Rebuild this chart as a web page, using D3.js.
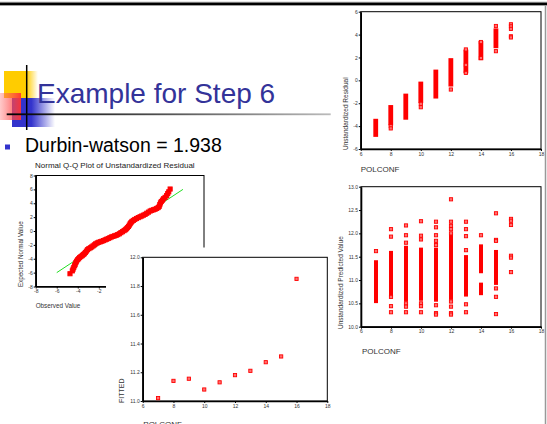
<!DOCTYPE html>
<html>
<head>
<meta charset="utf-8">
<script src="https://cdn.jsdelivr.net/npm/d3@7"></script>
<style>
  body { margin: 0; background: #fff; }
  svg { display: block; }
</style>
</head>
<body>
<svg id="slide" width="547" height="424"></svg>
<script>
// ---- data ----
const polconf = [7, 8, 9, 10, 11, 12, 13, 14, 15, 16];

// Normal Q-Q plot: [observed, expected normal]
const qqPoints = [
  [-4.74,-6.16],[-4.52,-5.75],[-4.45,-5.5],[-4.38,-5.25],[-4.3,-5.0],[-4.25,-4.8],[-4.18,-4.55],
  [-4.12,-4.35],[-4.02,-4.15],[-3.92,-4.0],[-3.82,-3.82],[-3.7,-3.68],[-3.58,-3.55],[-3.48,-3.4],
  [-3.38,-3.28],[-3.28,-3.1],[-3.18,-2.9],[-3.08,-2.7],[-2.95,-2.55],[-2.8,-2.42],[-2.68,-2.3],
  [-2.55,-2.15],[-2.42,-2.0],[-2.3,-1.85],[-2.15,-1.72],[-2.0,-1.62],[-1.85,-1.55],[-1.7,-1.47],
  [-1.55,-1.38],[-1.4,-1.28],[-1.25,-1.18],[-1.1,-1.08],[-0.95,-0.97],[-0.8,-0.86],[-0.65,-0.78],
  [-0.5,-0.7],[-0.35,-0.62],[-0.2,-0.52],[-0.05,-0.4],[0.1,-0.24],[0.25,-0.1],[0.4,0.05],
  [0.52,0.18],[0.62,0.32],[0.72,0.48],[0.82,0.65],[0.9,0.85],[0.98,1.05],[1.06,1.22],[1.15,1.38],
  [1.28,1.52],[1.42,1.66],[1.58,1.8],[1.75,1.93],[1.92,2.05],[2.08,2.16],[2.24,2.28],[2.4,2.4],
  [2.56,2.56],[2.72,2.72],[2.88,2.88],[3.04,2.98],[3.2,3.06],[3.35,3.14],[3.5,3.25],[3.64,3.38],
  [3.74,3.55],[3.8,3.8],[3.86,4.05],[3.94,4.25],[4.05,4.45],[4.15,4.65],[4.3,4.85],[4.45,5.1],
  [4.55,5.4],[4.65,5.65],[4.78,6.05]
];
const qqLine = [[-6, -6], [6, 6]];

// mean fitted value per POLCONF
const fitted = [11.02, 11.14, 11.155, 11.08, 11.13, 11.18, 11.21, 11.27, 11.31, 11.85];

// unstandardized residual: dense range per POLCONF [low, high] plus loose points
const residBands = [[-4.8,-3.5],[-3.8,-2.3],[-3.3,-1.3],[-1.85,-0.25],[-1.45,0.8],[-0.4,1.8],[0.75,2.55],[1.9,3.3],[2.95,4.4],null];
const residPoints = [
  [8,-4.0],[8,-4.2],[10,-2.05],[10,-2.35],[12,-0.8],[13,2.7],[13,1.35],[13,0.65],
  [14,3.35],[14,1.95],[15,4.75],[15,2.55],[16,4.9],[16,4.72],[16,4.5],[16,3.85],[16,3.75]
];

// unstandardized predicted value: dense ranges and loose points
const predBands = [
  [7,10.54,11.39],[8,10.68,11.59],[9,10.57,11.7],[10,10.59,11.66],[11,10.57,11.66],
  [12,10.61,11.93],[13,10.68,11.5],[14,11.18,11.73],[14,10.71,10.91],[15,10.93,11.61]
];
const predPoints = [
  [7,11.62],
  [8,12.09],[8,11.93],[8,10.64],[8,10.44],[8,10.31],
  [9,12.17],[9,11.96],[9,11.8],[9,10.5],[9,10.43],[9,10.31],
  [10,12.26],[10,11.95],[10,11.87],[10,10.5],[10,10.44],[10,10.31],
  [11,12.25],[11,12.13],[11,11.96],[11,11.84],[11,11.75],[11,10.46],[11,10.29],[11,10.26],
  [12,12.73],[12,12.25],[12,12.16],[12,12.09],[12,12.0],[12,10.54],[12,10.43],[12,10.29],[12,10.26],
  [13,12.25],[13,12.09],[13,11.94],[13,11.64],[13,10.48],[13,10.31],
  [14,11.96],
  [15,12.43],[15,11.86],[15,11.84],[15,10.82],[15,10.64],[15,10.27],
  [16,12.31],[16,12.27],[16,12.18],[16,11.52],[16,11.48],[16,11.17]
];

const xTicksPol = [6, 8, 10, 12, 14, 16, 18];

// ---- drawing ----
const svg = d3.select("#slide");
const FONT = "Liberation Sans, Arial, sans-serif";
const defs = svg.append("defs");

function grad(id, stops) {
  const lg = defs.append("linearGradient").attr("id", id).attr("x1", 0).attr("x2", 1).attr("y1", 0).attr("y2", 0);
  stops.forEach(s => lg.append("stop").attr("offset", s[0]).attr("stop-color", s[1]).attr("stop-opacity", s[2]));
}
grad("gYellow", [[0, "#ffcc00", 1], [0.65, "#ffcc00", 1], [1, "#ffcc00", 0]]);
grad("gBlue", [[0, "#3333cc", 1], [0.45, "#3333cc", 1], [1, "#3333cc", 0]]);
grad("gRed", [[0, "#ff6666", 0.35], [1, "#ff3333", 0.95]]);
grad("gRule", [[0, "#000", 1], [0.5, "#555", 1], [1, "#bbb", 1]]);

// slide frame lines
svg.append("rect").attr("x", 0).attr("y", 1.7).attr("width", 547).attr("height", 4.2).attr("fill", "#aaa");
svg.append("rect").attr("x", 0).attr("y", 2.7).attr("width", 547).attr("height", 2.4).attr("fill", "#000");
svg.append("line").attr("x1", 545.5).attr("x2", 545.5).attr("y1", 5).attr("y2", 424)
  .attr("stroke", "#999").attr("stroke-width", 1.5);

// title decoration
svg.append("rect").attr("x", 4).attr("y", 71).attr("width", 34).attr("height", 27).attr("fill", "url(#gYellow)");
svg.append("rect").attr("x", 12).attr("y", 98).attr("width", 43).attr("height", 29).attr("fill", "url(#gBlue)");
svg.append("rect").attr("x", 0).attr("y", 93).attr("width", 21).attr("height", 27).attr("fill", "url(#gRed)");
svg.append("line").attr("x1", 26.7).attr("x2", 26.7).attr("y1", 65).attr("y2", 130).attr("stroke", "#000").attr("stroke-width", 1.5);
svg.append("rect").attr("x", 6.7).attr("y", 113.4).attr("width", 324).attr("height", 1.8).attr("fill", "url(#gRule)");

svg.append("text").attr("x", 37).attr("y", 103.3).attr("font-family", FONT).attr("font-size", 28)
  .attr("fill", "#333399").text("Example for Step 6");

svg.append("rect").attr("x", 5).attr("y", 144.5).attr("width", 5).attr("height", 5).attr("fill", "#3333cc");
svg.append("text").attr("x", 25).attr("y", 151.7).attr("font-family", FONT).attr("font-size", 19.5)
  .attr("fill", "#000").text("Durbin-watson = 1.938");

function plot(box, xd, yd, xt, yt, yfmt) {
  const x = d3.scaleLinear().domain(xd).range([box.l, box.r]);
  const y = d3.scaleLinear().domain(yd).range([box.b, box.t]);
  const g = svg.append("g");
  g.append("rect").attr("x", box.l).attr("y", box.t).attr("width", box.r - box.l).attr("height", box.b - box.t)
    .attr("fill", "#fff").attr("stroke", "#000").attr("stroke-width", 1);
  g.append("g").attr("transform", `translate(0,${box.b})`)
    .call(d3.axisBottom(x).tickValues(xt).tickSize(2).tickSizeOuter(0).tickPadding(1).tickFormat(d => String(d)));
  g.append("g").attr("transform", `translate(${box.l},0)`)
    .call(d3.axisLeft(y).tickValues(yt).tickSize(2).tickSizeOuter(0).tickPadding(1).tickFormat(yfmt));
  g.selectAll(".tick text").attr("font-size", 5).attr("font-family", FONT).attr("fill", "#333");
  g.selectAll(".domain").attr("stroke-width", 1.6);
  const marks = g.append("g");
  return { x, y, g, marks };
}

function marker(sel, x, y, data, fx, fy, s) {
  s = s || 3.2;
  sel.selectAll(null).data(data).enter().append("rect")
    .attr("x", d => x(fx(d)) - s / 2).attr("y", d => y(fy(d)) - s / 2)
    .attr("width", s).attr("height", s)
    .attr("fill", "#ff7070").attr("stroke", "#f00").attr("stroke-width", 0.9);
}

function label(x, y, txt, size, rot) {
  const t = svg.append("text").attr("font-family", FONT).attr("font-size", size).attr("fill", "#333").text(txt);
  if (rot) t.attr("transform", `translate(${x},${y}) rotate(-90)`);
  else t.attr("x", x).attr("y", y);
}

// ---- Q-Q plot ----
const qq = plot({ l: 35.7, r: 204, t: 175.5, b: 286.5 }, [-8, 8], [-8, 8],
  d3.range(-8, 9, 2), d3.range(-8, 9, 2), d => String(d));
qq.marks.append("line")
  .attr("x1", qq.x(qqLine[0][0])).attr("y1", qq.y(qqLine[0][1]))
  .attr("x2", qq.x(qqLine[1][0])).attr("y2", qq.y(qqLine[1][1]))
  .attr("stroke", "#22dd22").attr("stroke-width", 1);
marker(qq.marks, qq.x, qq.y, qqPoints, d => d[0], d => d[1], 4.2);
qq.marks.selectAll("rect").attr("fill", "#f00");
svg.append("text").attr("x", 35).attr("y", 167.5).attr("font-family", FONT).attr("font-size", 8)
  .attr("fill", "#222").text("Normal Q-Q Plot of Unstandardized Residual");
label(23, 287, "Expected Normal Value", 6.3, true);
label(35.7, 308, "Observed Value", 6.3, false);

// ---- fitted panel (covers part of the Q-Q plot) ----
svg.append("rect").attr("x", 106).attr("y", 247.5).attr("width", 224).attr("height", 177).attr("fill", "#fff");
const fit = plot({ l: 142.7, r: 327.3, t: 257.3, b: 401 }, [6, 18], [11.0, 12.0],
  xTicksPol, [11.0, 11.2, 11.4, 11.6, 11.8, 12.0], d3.format(".1f"));
marker(fit.marks, fit.x, fit.y, polconf.map((p, i) => [p, fitted[i]]), d => d[0], d => d[1]);
label(124, 403, "FITTED", 7, true);
label(143.3, 427, "POLCONF", 8, false);

// ---- residual plot ----
svg.append("rect").attr("x", 331).attr("y", 7).attr("width", 213).attr("height", 170).attr("fill", "#fff");
const res = plot({ l: 360.7, r: 541, t: 11.7, b: 149 }, [6, 18], [-6, 6],
  xTicksPol, d3.range(-6, 7, 2), d => String(d));
res.marks.selectAll(null).data(polconf.map((p, i) => [p, residBands[i]]).filter(d => d[1]))
  .enter().append("rect")
  .attr("x", d => res.x(d[0]) - 2.4).attr("width", 4.8)
  .attr("y", d => res.y(d[1][1]) - 1.6)
  .attr("height", d => res.y(d[1][0]) - res.y(d[1][1]) + 3.2)
  .attr("fill", "#f00");
marker(res.marks, res.x, res.y, residPoints, d => d[0], d => d[1]);
label(347.5, 150, "Unstandardized Residual", 6.5, true);
label(360.7, 172, "POLCONF", 8, false);

// ---- predicted value plot ----
const pred = plot({ l: 361, r: 541, t: 186.7, b: 326.7 }, [6, 18], [10.0, 13.0],
  xTicksPol, [10.0, 10.5, 11.0, 11.5, 12.0, 12.5, 13.0], d3.format(".1f"));
pred.marks.selectAll(null).data(predBands).enter().append("rect")
  .attr("x", d => pred.x(d[0]) - 2).attr("width", 4)
  .attr("y", d => pred.y(d[2]) - 1.6)
  .attr("height", d => pred.y(d[1]) - pred.y(d[2]) + 3.2)
  .attr("fill", "#f00");
marker(pred.marks, pred.x, pred.y, predPoints, d => d[0], d => d[1]);
label(342.5, 329, "Unstandardized Predicted Value", 6.5, true);
label(362, 353.5, "POLCONF", 8, false);
</script>
</body>
</html>
